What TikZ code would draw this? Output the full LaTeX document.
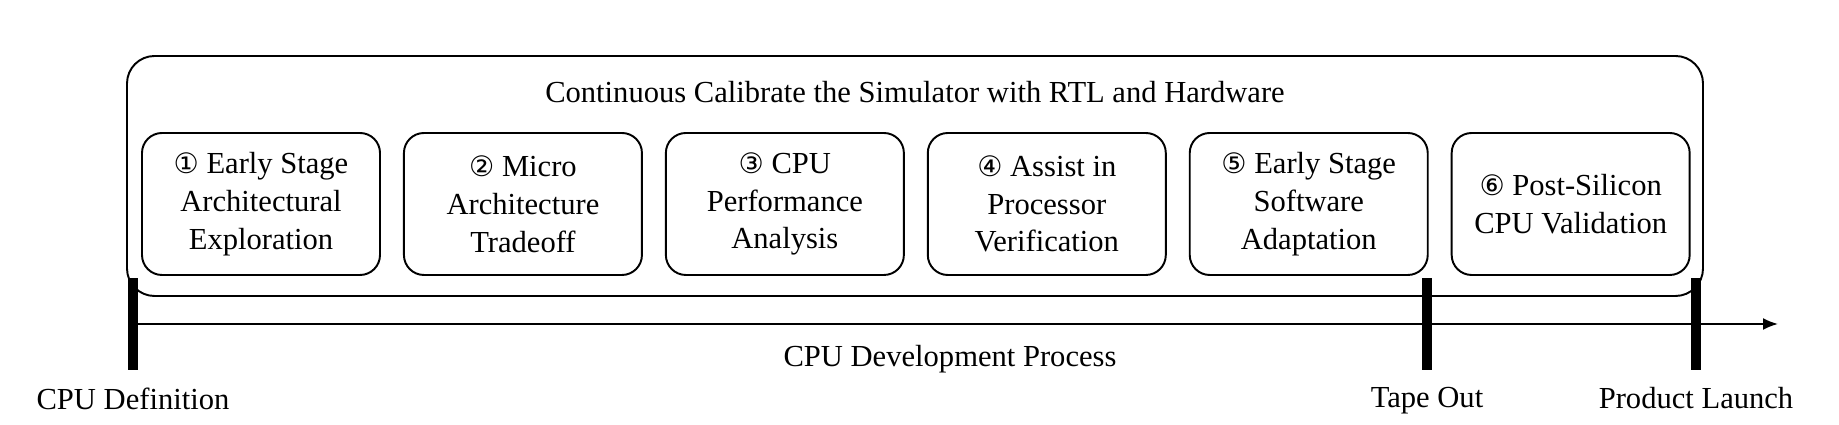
\documentclass[tikz,border=0pt]{standalone}
\usepackage{fontspec}
\setmainfont{Liberation Serif}
\newfontfamily\circfont{DejaVu Sans}
\usetikzlibrary{arrows.meta, positioning}

\newcommand{\cnum}[1]{{\circfont\fontsize{16}{21}\selectfont #1}}

\begin{document}
\begin{tikzpicture}[
 node distance=0.44cm,
 stage/.style={rectangle, draw, line width=1.1pt, rounded corners=0.4cm, minimum width=4.76cm, minimum height=2.84cm, align=center, font=\fontsize{17.4}{21.5}\selectfont},
 frame/.style={draw, line width=1.1pt, rounded corners=0.55cm},
 tick/.style={rectangle, fill=black, inner sep=0pt, minimum width=0.2cm, minimum height=1.84cm},
 label/.style={font=\fontsize{17.4}{21}\selectfont},
 arrow/.style={-{Latex[length=0.3cm, width=0.24cm]}, line width=1.1pt}
]
\useasboundingbox (0,0) rectangle (36.78,8.5);

% outer calibration frame
\draw[frame] (2.54,2.58) rectangle (34.06,7.38);
\node[label] (calib) at (18.3,6.66) {Continuous Calibrate the Simulator with RTL and Hardware};

\node[stage] (s1) at (5.22,4.42) {\cnum{①} Early Stage\\Architectural\\Exploration};
\node[stage, right=of s1] (s2) {\cnum{②} Micro\\Architecture\\Tradeoff};
\node[stage, right=of s2] (s3) {\cnum{③} CPU\\Performance\\Analysis};
\node[stage, right=of s3] (s4) {\cnum{④} Assist in\\Processor\\Verification};
\node[stage, right=of s4] (s5) {\cnum{⑤} Early Stage\\Software\\Adaptation};
\node[stage, right=of s5] (s6) {\cnum{⑥} Post-Silicon\\CPU Validation};

% timeline
\node[tick] (define) at (2.66,2.02) {};
\node[tick] (tapeout) at (28.54,2.02) {};
\node[tick] (launch) at (33.92,2.02) {};
\coordinate (tend) at (35.56,2.02);

\draw[arrow] (define.center) -- (tend);
\node[label] (process) at (19.0,1.32) {CPU Development Process};

\node[label, below=0.22cm of define] (deflbl) {CPU Definition};
\node[label, below=0.22cm of tapeout] (tapelbl) {Tape Out};
\node[label, below=0.22cm of launch] (launchlbl) {Product Launch};
\end{tikzpicture}
\end{document}
